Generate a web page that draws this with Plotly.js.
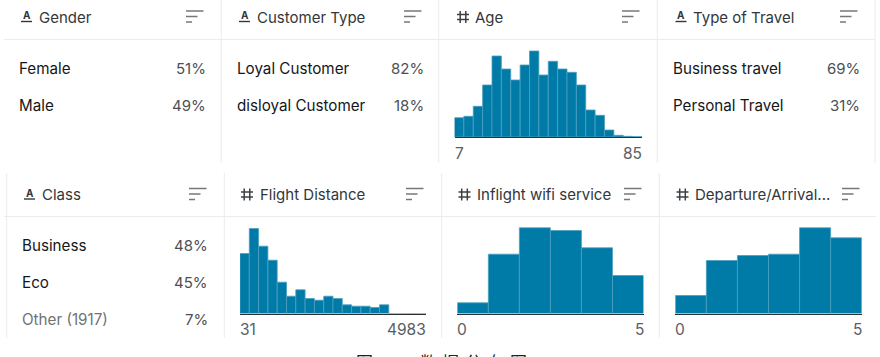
<!DOCTYPE html>
<html><head><meta charset="utf-8">
<script src="https://cdn.plot.ly/plotly-3.0.1.min.js"></script>
<style>html,body{margin:0;padding:0;background:#fff}#c{width:880px;height:357px}</style>
</head><body><div id="c"></div>
<script>
const W = 880, H = 357;
const ageCounts = [19.3,20.7,30.7,52,81,68,57,72,86,62,75.7,68,64.7,52,27,21.7,7,1.7,0.7,0.3];
const distanceCounts = [60,85,67.3,53.3,31.3,17.3,23.7,15,13.3,17.3,15,8.7,7.3,7.3,6,8.7,0,0,0,0];
const wifiCounts = [10.7,59.3,85.7,83,65.7,38];
const departureCounts = [18,53,58,59.3,85.7,75.7];

const histPanels = [
  {values: ageCounts, left: 454.5, right: 642, base: 137, lo: '7', hi: '85', labelY: 153},
  {values: distanceCounts, left: 240, right: 426, base: 313.5, lo: '31', hi: '4983', labelY: 329},
  {values: wifiCounts, left: 457.3, right: 643.5, base: 313.5, lo: '0', hi: '5', labelY: 329},
  {values: departureCounts, left: 675.3, right: 861.7, base: 313.5, lo: '0', hi: '5', labelY: 329}
];

const headers = [
  {t:'Gender', kind:'A', iconX:26.5, textX:39, sortX:186, y:17},
  {t:'Customer Type', kind:'A', iconX:244.5, textX:257, sortX:404, y:17},
  {t:'Age', kind:'#', iconX:463, textX:475, sortX:622, y:17},
  {t:'Type of Travel', kind:'A', iconX:681, textX:693, sortX:840, y:17},
  {t:'Class', kind:'A', iconX:29.5, textX:42, sortX:189, y:194.5},
  {t:'Flight Distance', kind:'#', iconX:247, textX:260, sortX:406, y:194.5},
  {t:'Inflight wifi service', kind:'#', iconX:464.5, textX:477, sortX:624, y:194.5},
  {t:'Departure/Arrival...', kind:'#', iconX:682.5, textX:695, sortX:842, y:194.5}
];

const rows = [
  {l:'Female', v:'51%', x:19, r:206, y:68.5},
  {l:'Male', v:'49%', x:19, r:206, y:105.5},
  {l:'Loyal Customer', v:'82%', x:237, r:424, y:68.5},
  {l:'disloyal Customer', v:'18%', x:237, r:424, y:105.5},
  {l:'Business travel', v:'69%', x:673, r:860, y:68.5},
  {l:'Personal Travel', v:'31%', x:673, r:860, y:105.5},
  {l:'Business', v:'48%', x:22, r:208, y:245},
  {l:'Eco', v:'45%', x:22, r:208, y:282},
  {l:'Other (1917)', v:'7%', x:22, r:208, y:319.5, muted:true}
];

const captionChars = ['图','数','据','分','布','图'];
const captionX = [364,428.5,451,473.5,496,518.5];
const captionNumber = '1';

const px = x => x / W, py = y => 1 - y / H;
const FONT = 'Inter, "Noto Sans CJK SC", sans-serif';
const shapes = [], annotations = [], traces = [];
const layout = {
  width: W, height: H, margin: {l:0,r:0,t:0,b:0},
  paper_bgcolor:'#fff', plot_bgcolor:'rgba(0,0,0,0)',
  bargap: 0, showlegend:false, font:{family:FONT}
};
function line(x0,y0,x1,y1,color,w){
  shapes.push({type:'line',xref:'paper',yref:'paper',x0:px(x0),x1:px(x1),y0:py(y0),y1:py(y1),line:{color:color,width:w||1},layer:'below'});
}
function text(t,x,y,anchor,size,color,weight){
  annotations.push({text:t,xref:'paper',yref:'paper',x:px(x),y:py(y),xanchor:anchor,yanchor:'middle',showarrow:false,
    font:{family:FONT,size:size,color:color,weight:weight||400},borderpad:0,borderwidth:0});
}
const GRID = '#ececec';
[221.3,438.7,657.3,875].forEach(x=>line(x,0,x,163,GRID));
[6.7,224.3,441.7,659.3].forEach(x=>line(x,173,x,338,GRID));
line(4,39.5,875,39.5,GRID);
line(4,216.5,876,216.5,GRID);

headers.forEach(h=>{
  if(h.kind==='A'){
    text('A',h.iconX,h.y-1.5,'center',10,'#33373a',700);
    line(h.iconX-5.5,h.y+4.5,h.iconX+5.5,h.y+4.5,'#33373a',1.4);
  } else {
    const c='#3c4043';
    line(h.iconX-2.8,h.y-6,h.iconX-2.8,h.y+6,c,1.5);
    line(h.iconX+2.8,h.y-6,h.iconX+2.8,h.y+6,c,1.5);
    line(h.iconX-6,h.y-2.5,h.iconX+6,h.y-2.5,c,1.5);
    line(h.iconX-6,h.y+2.5,h.iconX+6,h.y+2.5,c,1.5);
  }
  text(h.t,h.textX,h.y,'left',15,'#33373a');
  const t=h.y-6;
  line(h.sortX,t,h.sortX+17.5,t,'#777',1.5);
  line(h.sortX,t+5.5,h.sortX+11.5,t+5.5,'#777',1.5);
  line(h.sortX,t+11,h.sortX+6,t+11,'#777',1.5);
});
rows.forEach(r=>{
  text(r.l,r.x,r.y,'left',15.2,r.muted?'#6f7276':'#15171a');
  text(r.v,r.r,r.y,'right',15,'#4c5054');
});
histPanels.forEach((p,i)=>{
  const n=i===0?'':String(i+1);
  const bins=p.values.map((_,k)=>k+0.5);
  traces.push({type:'bar',x:bins,y:p.values,xaxis:'x'+n,yaxis:'y'+n,
    marker:{color:'#007ba7',line:{color:'#4d9fc0',width:0.8}},hoverinfo:'skip'});
  const top=p.base-100;
  layout['xaxis'+n]={domain:[px(p.left),px(p.right)],range:[0,p.values.length],anchor:'y'+n,
    showgrid:false,zeroline:false,showticklabels:false,ticks:'',showline:true,linecolor:'#2d3033',linewidth:1.3,fixedrange:true};
  layout['yaxis'+n]={domain:[py(p.base),py(top)],range:[0,100],anchor:'x'+n,
    showgrid:false,zeroline:false,showticklabels:false,ticks:'',showline:false,fixedrange:true};
  text(p.lo,p.left,p.labelY,'left',15.5,'#5a5e62');
  text(p.hi,p.right,p.labelY,'right',15.5,'#5a5e62');
});
captionChars.forEach((c,i)=>text(c,captionX[i],362.5,'center',17,'#222'));
text(captionNumber,396,366,'center',15,'#222');
layout.shapes=shapes; layout.annotations=annotations;
Plotly.newPlot('c',traces,layout,{displayModeBar:false,staticPlot:true});
</script></body></html>
